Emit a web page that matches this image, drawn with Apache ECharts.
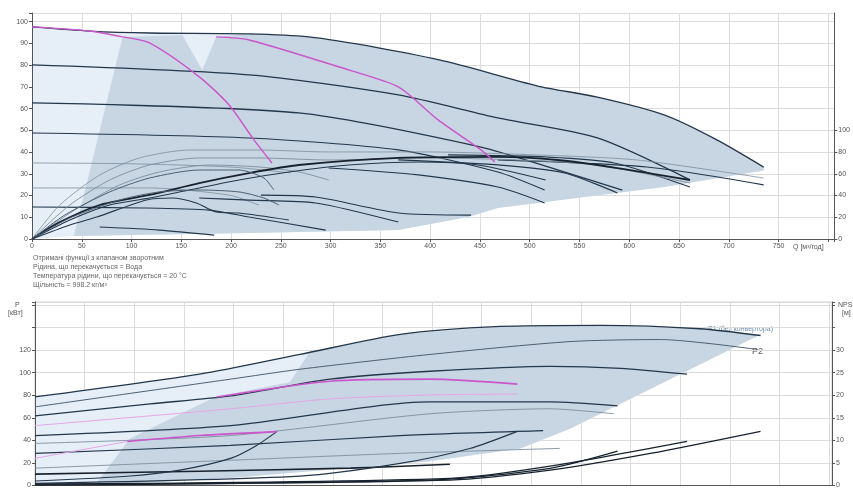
<!DOCTYPE html>
<html><head><meta charset="utf-8">
<script src="https://cdn.jsdelivr.net/npm/echarts@6/dist/echarts.min.js"></script>
<style>html,body{margin:0;padding:0;background:#fff}#c{width:853px;height:489px}</style>
</head><body><div id="c"></div>
<script>
// ---------- TOP CHART (Q-H, efficiency) ----------
// Q-H curves (left axis H, m)
const t1Q = [0,58,118,218,278,348,418,508,568,635,688,735];
const t1H = [97.6,95.7,94.8,94.4,93.0,88.0,81.5,70.4,65.3,57.1,45.6,33.1];
const t2Q = [0,218,368,468,568,661];
const t2H = [80.1,75.5,66.3,55.7,46.5,27.2];
const t3Q = [0,268,451,528,593];
const t3H = [62.6,58.0,42.3,31.8,22.5];
const t4Q = [0,218,368,468,515];
const t4H = [48.8,46.5,41.0,30.8,22.5];
const g1Q = [0,100,200,260];
const g1H = [35.0,34.6,33.1,30.4];
const g2Q = [0,118,198,228];
const g2H = [23.5,23.5,20.2,15.6];
const q1Q = [0,111,178,218,295];
const q1H = [14.7,14.3,13.3,10.1,4.1];
const q2Q = [68,128,183];
const q2H = [5.5,4.1,1.8];
const q3Q = [168,218,285,368];
const q3H = [18.9,17.9,16.6,7.8];
const q4Q = [230,285,368,441];
const q4H = [20.2,19.3,12.0,11.0];
const q6Q = [298,388,468,515];
const q6H = [32.7,29.5,23.9,16.6];
const q7Q = [368,468,535,588];
const q7H = [36.4,34.1,30.4,21.2];
const q8Q = [418,518,585,661];
const q8H = [38.7,37.7,35.0,23.9];
const q9Q = [468,618,735];
const q9H = [36.4,33.1,24.9];
// pink curves
const p1Q = [91,118,168,198,223,241];
const p1H = [93.0,90.2,74.6,61.7,45.6,35.0];
const p2Q = [185,218,318,368,408,451,465];
const p2H = [93.0,91.6,77.8,70.0,54.8,41.0,35.4];
const p0Q = [0,58,91];
const p0H = [97.6,95.7,93.0];
// efficiency curves (right axis, %)
const e1Q = [0,28,68,108,158,228,298,398,508,608,735];
const e1V = [0,31.3,58.9,74.6,81.9,81.9,80.1,80.1,77.3,72.7,56.1];
const e2Q = [0,38,78,118,168,228,298,398,488,568,661];
const e2V = [0,31.3,54.3,68.1,74.6,74.6,72.7,74.6,72.7,68.1,51.5];
const e3Q = [0,43,88,128,178,228,268,298];
const e3V = [0,26.7,49.7,61.7,68.1,66.3,61.7,54.3];
const e4Q = [0,28,68,118,168,218,268,368,468,528,588,661];
const e4V = [0,15.6,31.3,40.5,51.5,60.7,68.1,74.6,75.5,72.7,65.3,54.3];
const e5Q = [0,38,78,118,158,208,258,318,388,448,516];
const e5V = [0,17.5,31.3,37.7,45.1,54.3,61.7,68.1,70.9,68.1,54.3];
const e6Q = [0,33,78,118,168,208,233,243];
const e6V = [0,22.1,43.3,56.1,63.5,63.5,56.1,45.1];
const e7Q = [0,38,88,128,168,208,233,248];
const e7V = [0,19.3,35.9,43.3,45.1,43.3,37.7,31.3];
const e8Q = [0,38,65,115,141,165,185,208,258];
const e8V = [0,12.9,20.2,35.9,37.7,33.1,24.9,23.9,17.5];
const effTicks = [0,20,40,60,80,100];
// shaded areas (top)
const lowTopQ = [735,635,555,468,438,368,218,43,0];
const lowTopH = [31.5,23.9,19.3,14.3,10.1,4.1,2.8,1.4,0];
const darkTopLeftQ = [42,91,151,171,185];
const darkTopLeftH = [1.4,93.0,93.9,77.8,93.0];

// ---------- BOTTOM CHART (P, NPSH) ----------
const b1Q = [0,166,267,368,469,570,670,731];
const b1P = [78.5,98.7,116.2,134,141,142,139,133];
const b2Q = [0,197,267,398,539,630,728];
const b2P = [69.7,94.3,103.1,116.2,127.6,129.4,120.6];
const b3Q = [0,116,197,297,398,519,590,657];
const b3P = [61.8,72.4,79.4,94.3,101.3,105.7,103.9,98.7];
const b5Q = [0,197,398,519,587];
const b5P = [44.3,53.1,74.1,74.1,70.6];
const b6Q = [0,197,398,519,583];
const b6P = [37.3,44.3,63.6,68.0,63.6];
const b7Q = [0,197,368,512];
const b7P = [28.5,35.5,44.3,48.7];
const b8Q = [0,197,368,529];
const b8P = [15.4,22.4,28.5,32.9];
const b9Q = [0,166,318,418];
const b9P = [10.1,12.7,15.4,18.9];
const pkLightQ = [0,197,297,398,486];
const pkLightP = [53.1,68.0,76.8,80.3,81.1];
const pkDarkQ = [183,297,398,486];
const pkDarkP = [78.5,92.5,94.3,89.9];
const pk2LightQ = [0,93];
const pk2LightP = [24.1,39.0];
const pk2DarkQ = [93,166,244];
const pk2DarkP = [39.0,44.3,47.8];
// NPSH curves (right axis, m)
const n1Q = [0,96,146,197,222,244];
const n1V = [1.0,2.1,3.4,6.0,8.7,12.0];
const n2Q = [0,267,368,438,486];
const n2V = [0.5,2.1,4.9,8.2,12.0];
const n3Q = [0,398,519,587];
const n3V = [0.3,1.2,3.8,7.6];
const n4Q = [0,418,519,657];
const n4V = [0.3,1.6,4.3,9.8];
const n5Q = [0,418,519,620,731];
const n5V = [0.1,1.2,3.4,7.1,12.0];
// shaded areas (bottom)
const lowBotQ = [731,539,489,398,197,0];
const lowBotP = [133.8,50.4,32.9,21.5,6.6,0.4];
const darkBotLeftQ = [60.5,95.8,181.5,257,277];
const darkBotLeftP = [0.4,41.7,78.5,91.7,118.9];

const noteLines = [
  'Отримані функції з клапаном зворотним',
  'Рідина, що перекачується = Вода',
  'Температура рідини, що перекачується = 20 °C',
  'Щільність = 998.2 кг/м³'
];

// ---------- helpers ----------
const zip = (a, b) => a.map((v, i) => [v, b[i]]);
const DARK = '#24364a', GRAY = '#7d8d9c', PINK = '#cc55cc', PINKL = '#e6a6e6';
const LIGHT = '#e6eff8', SHADE = '#c7d6e2';
function line(xi, yi, Q, V, color, w, z) {
  return {type:'line', xAxisIndex:xi, yAxisIndex:yi, data:zip(Q, V), symbol:'none', smooth:0.25,
    lineStyle:{color:color, width:w}, silent:true, z:z||3, animation:false};
}
function poly(xi, yi, pts, color, z) {
  return {type:'custom', xAxisIndex:xi, yAxisIndex:yi, data:[[0,0]], silent:true, z:z, animation:false,
    renderItem:(p, api) => ({type:'polygon', shape:{points:pts.map(q => api.coord(q))}, style:{fill:color}})};
}
const t1 = zip(t1Q, t1H);
const lightTop = [[0,0]].concat(t1, zip(lowTopQ, lowTopH));
const darkTop = zip(darkTopLeftQ, darkTopLeftH)
  .concat(t1.filter(p => p[0] > 185), zip(lowTopQ, lowTopH).filter(p => p[0] >= 43));
const b1 = zip(b1Q, b1P);
const lightBot = [[0,0]].concat(b1, zip(lowBotQ, lowBotP));
const darkBot = zip(darkBotLeftQ, darkBotLeftP)
  .concat(b1.filter(p => p[0] > 277), zip(lowBotQ, lowBotP).filter(p => p[0] > 100), [[60.5,0.4]]);

const FONT = 'Liberation Sans, Arial, sans-serif';
const axLine = {show:true, lineStyle:{color:'#555', width:1}};
const axTick = {show:true, length:3, lineStyle:{color:'#555'}};
const lbl = (f) => ({fontSize:7, color:'#555', margin:4, fontFamily:FONT, formatter:f});
const grid = {lineStyle:{color:'#dcdcdc', width:1}};

const chart = echarts.init(document.getElementById('c'), null, {renderer:'canvas'});
chart.setOption({
  animation:false,
  backgroundColor:'#fff',
  grid:[
    {left:32, right:15, top:13, height:226, containLabel:false},
    {left:35, right:21, top:302, height:186, show:true, borderColor:'#cfcfcf', borderWidth:1, containLabel:false}
  ],
  xAxis:[
    {gridIndex:0, type:'value', min:0, max:806, interval:50, axisLine:axLine, axisTick:axTick,
      axisLabel:lbl(v => v <= 750 ? String(v) : ''), splitLine:grid},
    {gridIndex:1, type:'value', min:0, max:803, interval:50, axisLine:axLine, axisTick:{show:false},
      axisLabel:{show:false}, splitLine:grid}
  ],
  yAxis:[
    {gridIndex:0, type:'value', min:0, max:104, interval:10, axisLine:axLine, axisTick:axTick,
      axisLabel:lbl(v => v <= 100 ? String(v) : ''), splitLine:grid},
    {gridIndex:0, type:'value', position:'right', min:0, max:208, interval:20, axisLine:axLine,
      axisTick:Object.assign({}, axTick, {customValues:effTicks}),
      axisLabel:Object.assign(lbl(v => String(v)), {customValues:effTicks}), splitLine:{show:false}},
    {gridIndex:1, type:'value', min:0, max:162.7, interval:20, axisLine:axLine, axisTick:axTick,
      axisLabel:lbl(v => v <= 120 ? String(v) : ''), splitLine:grid},
    {gridIndex:1, type:'value', position:'right', min:0, max:40.675, interval:5, axisLine:axLine, axisTick:axTick,
      axisLabel:lbl(v => v <= 30 ? String(v) : ''), splitLine:{show:false}}
  ],
  graphic:[
    {type:'text', left:793, top:244, style:{text:'Q [м³/год]', fontSize:7, fill:'#555', fontFamily:FONT}},
    ...noteLines.map((t, i) => ({type:'text', left:33, top:255 + i * 9,
      style:{text:t, fontSize:7, fill:'#666', fontFamily:FONT}})),
    {type:'text', left:15, top:302, style:{text:'P', fontSize:7, fill:'#555', fontFamily:FONT}},
    {type:'text', left:8, top:310, style:{text:'[кВт]', fontSize:7, fill:'#555', fontFamily:FONT}},
    {type:'text', left:838, top:302, style:{text:'NPSH', fontSize:7, fill:'#555', fontFamily:FONT}},
    {type:'text', left:842, top:310, style:{text:'[м]', fontSize:7, fill:'#555', fontFamily:FONT}},
    {type:'text', left:708, top:326, style:{text:'P1 (без конвертора)', fontSize:7, fill:'#6c8db0', fontFamily:FONT}},
    {type:'text', left:752, top:347, style:{text:'P2', fontSize:9, fill:'#555', fontFamily:FONT}}
  ],
  series:[
    poly(0, 0, lightTop, LIGHT, 0),
    poly(0, 0, darkTop, SHADE, 1),
    line(0,0,t1Q,t1H,DARK,1.3),
    line(0,0,t2Q,t2H,DARK,1.3),
    line(0,0,t3Q,t3H,DARK,1.3),
    line(0,0,t4Q,t4H,DARK,1.1),
    line(0,0,g1Q,g1H,GRAY,0.8),
    line(0,0,g2Q,g2H,GRAY,0.8),
    line(0,0,q1Q,q1H,DARK,1.1),
    line(0,0,q2Q,q2H,DARK,1.1),
    line(0,0,q3Q,q3H,DARK,1.1),
    line(0,0,q4Q,q4H,DARK,1.1),
    line(0,0,q6Q,q6H,DARK,1.1),
    line(0,0,q7Q,q7H,DARK,1.1),
    line(0,0,q8Q,q8H,DARK,1.1),
    line(0,0,q9Q,q9H,DARK,1.1),
    line(0,1,e1Q,e1V,GRAY,0.8),
    line(0,1,e2Q,e2V,GRAY,0.9),
    line(0,1,e3Q,e3V,GRAY,0.9),
    line(0,1,e4Q,e4V,'#17222e',1.8),
    line(0,1,e5Q,e5V,DARK,1.1),
    line(0,1,e6Q,e6V,'#4d5f71',1.0),
    line(0,1,e7Q,e7V,'#4d5f71',1.0),
    line(0,1,e8Q,e8V,DARK,1.1),
    line(0,0,p0Q,p0H,PINK,1.4,4),
    line(0,0,p1Q,p1H,PINK,1.4,4),
    line(0,0,p2Q,p2H,PINK,1.4,4),

    poly(1, 2, lightBot, LIGHT, 0),
    poly(1, 2, darkBot, SHADE, 1),
    line(1,2,b1Q,b1P,DARK,1.3),
    line(1,2,b2Q,b2P,'#4d5f71',1.0),
    line(1,2,b3Q,b3P,DARK,1.3),
    line(1,2,b5Q,b5P,DARK,1.2),
    line(1,2,b6Q,b6P,GRAY,0.9),
    line(1,2,b7Q,b7P,DARK,1.2),
    line(1,2,b8Q,b8P,GRAY,0.9),
    line(1,2,b9Q,b9P,'#17222e',1.6),
    line(1,2,pkLightQ,pkLightP,PINKL,1.0,4),
    line(1,2,pkDarkQ,pkDarkP,PINK,1.6,4),
    line(1,2,pk2LightQ,pk2LightP,PINKL,1.0,4),
    line(1,2,pk2DarkQ,pk2DarkP,PINK,1.6,4),
    line(1,3,n1Q,n1V,DARK,1.2),
    line(1,3,n2Q,n2V,DARK,1.2),
    line(1,3,n3Q,n3V,'#17222e',1.3),
    line(1,3,n4Q,n4V,'#17222e',1.3),
    line(1,3,n5Q,n5V,'#17222e',1.3)
  ]
});
</script></body></html>
